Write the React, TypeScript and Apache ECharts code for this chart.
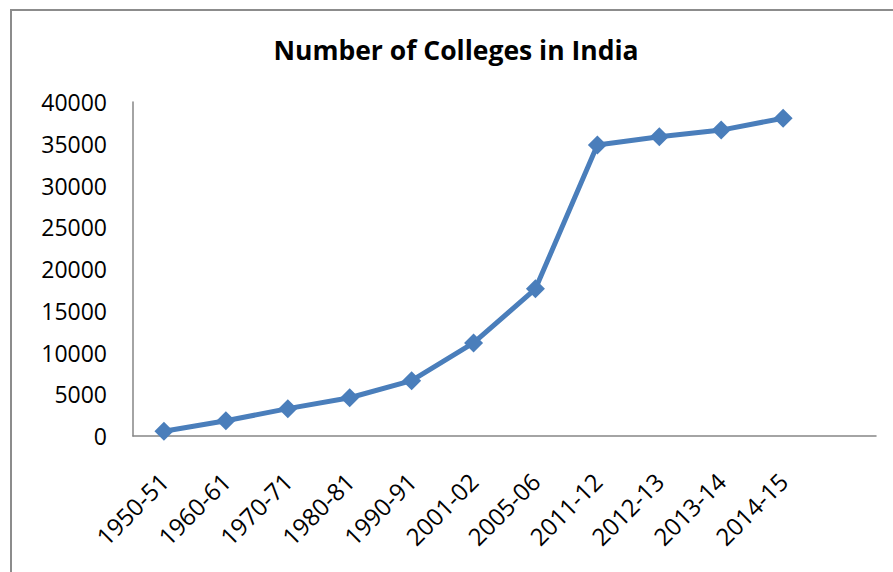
import React, { useEffect, useRef } from "react";
import * as echarts from "echarts";

const categories = [
  "1950-51", "1960-61", "1970-71", "1980-81", "1990-91", "2001-02",
  "2005-06", "2011-12", "2012-13", "2013-14", "2014-15", "",
];
const colleges = [578, 1819, 3277, 4577, 6627, 11146, 17625, 34852, 35829, 36634, 38056];
const titleText = "Number of Colleges in India";
const FONT = "Open Sans";

export default function App() {
  const ref = useRef<HTMLDivElement>(null);
  useEffect(() => {
    if (!ref.current) return;
    const chart = echarts.init(ref.current, null, { renderer: "svg" });
    chart.setOption({
      animation: false,
      backgroundColor: "#ffffff",
      title: {
        text: titleText,
        left: 451,
        textAlign: "center",
        top: 31,
        textStyle: { fontFamily: FONT, fontWeight: "bold", fontSize: 26.5, color: "#000" },
      },
      graphic: [
        {
          type: "rect",
          shape: { x: 11, y: 10, width: 900, height: 600 },
          style: { fill: "none", stroke: "#8c8c8c", lineWidth: 2 },
          silent: true,
        },
      ],
      grid: { left: 133, top: 102, right: 17, bottom: 136, containLabel: false },
      xAxis: {
        type: "category",
        data: categories,
        boundaryGap: true,
        axisLine: { lineStyle: { color: "#868686", width: 1.5 } },
        axisTick: { show: false },
        axisLabel: {
          rotate: 45,
          interval: 0,
          margin: 41,
          fontFamily: FONT,
          fontSize: 24,
          color: "#000",
        },
      },
      yAxis: {
        type: "value",
        min: 0,
        max: 40000,
        interval: 5000,
        axisLine: { show: true, lineStyle: { color: "#868686", width: 1.5 } },
        axisTick: { show: false },
        splitLine: { show: false },
        axisLabel: {
          margin: 26,
          fontFamily: FONT,
          fontSize: 23,
          color: "#000",
          formatter: (v: number) => String(v),
        },
      },
      series: [
        {
          type: "line",
          data: colleges,
          symbol: "diamond",
          symbolSize: 19,
          lineStyle: { color: "#4a7ebb", width: 5 },
          itemStyle: { color: "#4a7ebb" },
        },
      ],
    });
    return () => chart.dispose();
  }, []);
  return (
    <div
      ref={ref}
      style={{ position: "absolute", left: 0, top: 0, width: 893, height: 572 }}
    />
  );
}
